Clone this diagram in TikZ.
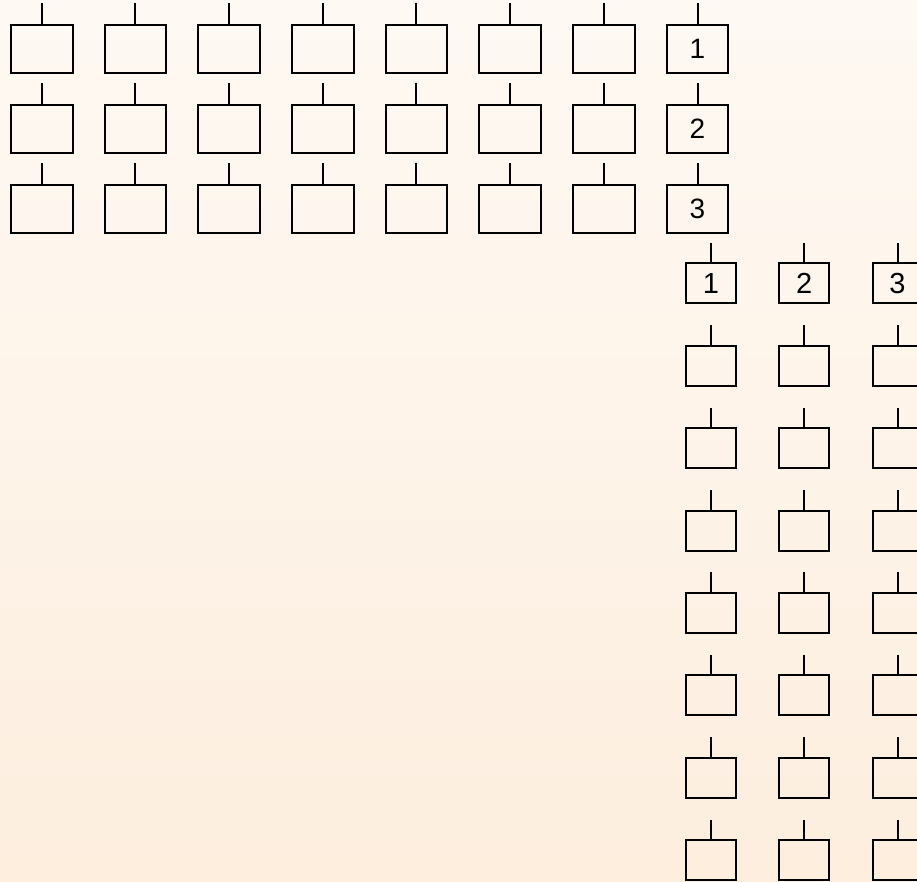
\documentclass[tikz,border=0pt]{standalone}
\usepackage{fontspec}
\setmainfont{Liberation Sans}
\begin{document}
\begin{tikzpicture}[x=1pt,y=-1pt,
  bigbox/.style={draw=black,line width=2pt,rectangle,inner sep=0pt,
    minimum width=61.7pt,minimum height=47.7pt,
    font=\fontsize{28}{28}\selectfont},
  smallbox/.style={draw=black,line width=2pt,rectangle,inner sep=0pt,
    minimum width=49.7pt,minimum height=40pt,
    font=\fontsize{29}{29}\selectfont},
  stem/.style={draw=black,line width=2pt}]
\useasboundingbox (0,0) rectangle (917,881);
\shade[shading angle=10,top color={rgb,255:red,254;green,249;blue,243},
       bottom color={rgb,255:red,253;green,238;blue,222}] (0,0) rectangle (917,881);
\clip (0,0) rectangle (917,881);
% top grid: 3 rows x 8 columns
\foreach \r in {1,2,3}{
  \foreach \c in {1,...,8}{
    \pgfmathsetmacro{\cx}{41.8+93.67*(\c-1)}
    \pgfmathsetmacro{\cy}{48.9+80*(\r-1)}
    \ifnum\c=8
      \node[bigbox] (T\r-\c) at (\cx,\cy) {\raisebox{-1.5pt}{\r}};
    \else
      \node[bigbox] (T\r-\c) at (\cx,\cy) {};
    \fi
    \coordinate (TS\r-\c) at ([yshift=21pt]T\r-\c.north);
    \draw[stem] (TS\r-\c) -- (T\r-\c.north);
  }
}
% right grid: 8 rows x 3 columns
\foreach \r in {1,...,8}{
  \foreach \c in {1,2,3}{
    \pgfmathsetmacro{\cx}{710.9+93.3*(\c-1)}
    \pgfmathsetmacro{\cy}{283.3+82.4*(\r-1)}
    \ifnum\r=1
      \node[smallbox] (R\r-\c) at (\cx,\cy) {\raisebox{-0.7pt}{\c}};
    \else
      \node[smallbox] (R\r-\c) at (\cx,\cy) {};
    \fi
    \coordinate (RS\r-\c) at ([yshift=19.5pt]R\r-\c.north);
    \draw[stem] (RS\r-\c) -- (R\r-\c.north);
  }
}
\end{tikzpicture}
\end{document}
